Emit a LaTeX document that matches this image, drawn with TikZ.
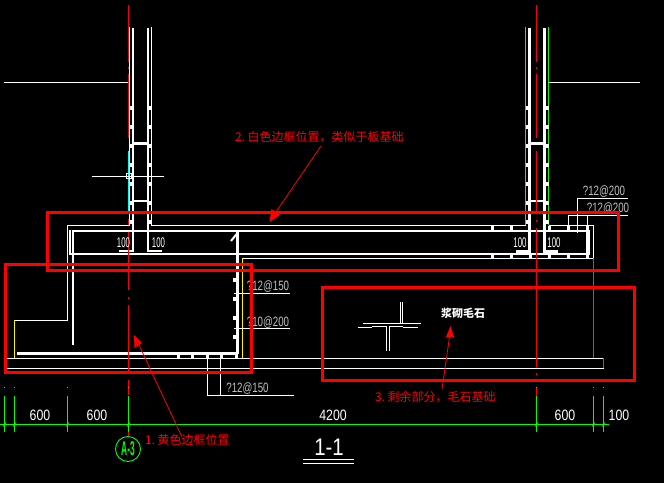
\documentclass[tikz,border=0pt]{standalone}
\usepackage{fontspec}
\setmainfont{Liberation Sans}
\newfontfamily\cjk{Noto Sans CJK SC}
\definecolor{cadgreen}{RGB}{0,255,0}
\definecolor{cadred}{RGB}{255,0,0}
\definecolor{cadcyan}{RGB}{0,255,255}
\definecolor{cadmag}{RGB}{255,0,255}
\definecolor{cadgray}{RGB}{192,192,192}
\tikzset{
  thinw/.style={draw=white,line width=0.9bp},
  midw/.style={draw=white,line width=2bp},
  thickw/.style={draw=white,line width=3bp},
  axisline/.style={draw=cadred,line width=1bp},
  dimline/.style={draw=cadgreen,line width=1bp},
  redbox/.style={draw=cadred,line width=3bp},
  leader/.style={draw=cadred,line width=0.8bp},
  rnote/.style={text=cadred,font=\cjk\fontsize{12bp}{12bp}\selectfont,inner sep=0pt},
  dimtext/.style={text=white,font=\fontsize{15bp}{15bp}\selectfont,inner sep=0pt,xscale=0.82,transform shape},
  smalldim/.style={text=white,font=\fontsize{14bp}{14bp}\selectfont,inner sep=0pt,xscale=0.56,transform shape},
  rebartext/.style={text=cadgray,font=\fontsize{13.5bp}{14bp}\selectfont,inner sep=0pt,xscale=0.72,transform shape},
}
\newcommand{\rbdot}[2]{\fill[white] (#1-1.5,#2-2) rectangle (#1+1.5,#2+2);}
\newcommand{\notenum}[1]{\makebox[12.5bp][l]{#1}}
\begin{document}
\begin{tikzpicture}[x=1bp,y=-1bp]
\fill[black,use as bounding box] (0,0) rectangle (664,483);
% ground lines
\draw[thinw] (4,82) -- (129,82);
\draw[thinw] (548,82) -- (640,82);
% walls left
\draw[thinw] (129.5,27) -- (129.5,225) -- (67.5,225) -- (67.5,320) -- (14.5,320);
\draw[draw=yellow,line width=0.9bp] (14.5,320) -- (14.5,358);
\draw[thinw] (151.5,27) -- (151.5,225) -- (525.5,225);
\draw[thickw,line width=2.6bp] (119,251) -- (133,251) -- (133,28);
\draw[thickw,line width=2.6bp] (162,251) -- (148,251) -- (148,28);
\draw[thickw] (133,144) -- (148,144);
\draw[midw] (133,201) -- (148,201);
% walls right
\draw[draw=cadgreen,line width=1bp] (525.5,27) -- (525.5,225);
\draw[draw=cadgreen,line width=1bp] (548.5,27) -- (548.5,225);
\draw[thickw] (516,251) -- (529.5,251) -- (529.5,28);
\draw[thickw] (558,251) -- (544.5,251) -- (544.5,28);
\draw[thickw] (529.5,144) -- (544.5,144);
\draw[midw] (529.5,201) -- (544.5,201);
\foreach \yy in {108,127,146,165,184,203,222}{
  \rbdot{130.5}{\yy}\rbdot{150}{\yy}\rbdot{527}{\yy}\rbdot{547}{\yy}
}
% outer outline right
\draw[thinw] (548.5,225) -- (593.5,225) -- (593.5,258) -- (242,258);
\draw[draw=cadmag,line width=1bp] (593.5,258) -- (593.5,358);
\draw[draw=yellow,line width=0.9bp] (242,258) -- (242,358);
% slab rebar
\draw[midw] (72.5,345) -- (72.5,231) -- (589,231);
\draw[midw] (70,230) -- (70,254);
\draw[midw] (69,253.5) -- (589,253.5);
\draw[draw=white,line width=4.5bp] (588,230) -- (588,255);
\draw[thickw] (17,353) -- (237.5,353);
\draw[thickw] (237.5,354) -- (237.5,232);
\draw[midw] (231,241) -- (237.5,233);
\foreach \xx in {492,511,549,568,587}{\rbdot{\xx}{228.5}}
\foreach \xx in {492,511,530,549,568,587}{\rbdot{\xx}{256}}
\foreach \yy in {280,299,318,337}{\rbdot{234.5}{\yy}}
\foreach \xx in {178,192.5,207,221,236}{\rbdot{\xx}{356}}
% rebar leaders
\draw[thinw] (234,293) -- (290,293);
\draw[thinw] (234,328) -- (290,328);
\draw[thinw] (207,356) -- (207,395) -- (294,395);
\draw[thinw] (220.5,356) -- (220.5,395);
\draw[thinw] (568,228) -- (568,215) -- (628,215);
\draw[thinw] (587,228) -- (587,215);
\draw[thinw] (577,233) -- (577,198) -- (628,198);
% bottom plate
\draw[thinw] (6,358) -- (603.5,358);
\draw[thinw] (6,368) -- (603.5,368);
\draw[draw=cadmag,line width=1bp] (603.5,358) -- (603.5,368);
% axes
\foreach \ax in {128.5,536.5}{
  \draw[axisline] (\ax,5) -- (\ax,62);
  \draw[axisline] (\ax,67) -- (\ax,69);
  \draw[axisline] (\ax,74) -- (\ax,138);
}
\draw[draw=cadcyan,line width=1bp] (128.5,151) -- (128.5,212);
\draw[axisline] (128.5,219) -- (128.5,225);
\draw[axisline] (128.5,232) -- (128.5,290);
\draw[axisline] (128.5,297) -- (128.5,299);
\draw[axisline] (128.5,305) -- (128.5,373);
\draw[axisline] (128.5,380) -- (128.5,395);
\draw[axisline] (128.5,432) -- (128.5,437);
\draw[axisline] (536.5,151) -- (536.5,212);
\draw[axisline] (536.5,220) -- (536.5,222);
\draw[axisline] (536.5,228) -- (536.5,367);
\draw[axisline] (536.5,373) -- (536.5,375);
\draw[axisline] (536.5,387) -- (536.5,396);
% cursor
\draw[thinw] (92,176) -- (164,176);
\draw[draw=white,line width=0.8bp] (126,173.5) rectangle (131,178.5);
% symbol
\draw[thinw] (400,302) -- (400,323);
\draw[thinw] (402.5,302) -- (402.5,323);
\draw[thinw] (363,323.5) -- (421,323.5);
\draw[thinw] (358,327.5) -- (372,327.5);
\draw[thinw] (372,326.5) -- (386,326.5) -- (386,351);
\draw[thinw] (389,351) -- (389,326.5) -- (403,326.5);
\draw[thinw] (403,327.5) -- (418,327.5);
% dimensions
\draw[dimline] (0,424.5) -- (609,424.5);
\foreach \tx in {4.5,14.5,67.5,128.5,536.5,593.5,603.5}{
  \draw[dimline] (\tx,396) -- (\tx,432);
  \draw[dimline,line width=0.7bp] (\tx-1.5,426.5) -- (\tx+1.5,422.5);
  \fill[cadgreen] (\tx-0.5,387) rectangle (\tx+0.5,388);
}
\node[dimtext] (d1) at (40,415) {600};
\node[dimtext] (d2) at (97,415) {600};
\node[dimtext] (d3) at (333,415) {4200};
\node[dimtext] (d4) at (565,415) {600};
\node[dimtext] (d5) at (619,415) {100};
% axis bubble
\node[draw=cadgreen,line width=0.9bp,circle,minimum size=25bp,inner sep=0pt,text=cadgreen,font=\bfseries\fontsize{20bp}{20bp}\selectfont] (bubble) at (128,449) {\scalebox{0.42}[1]{A-3}};
% title
\node[text=white,font=\fontsize{24bp}{24bp}\selectfont,inner sep=0pt] (title) at (329,447.5) {\scalebox{0.85}[1]{1-1}};
\draw[draw=white,line width=1.6bp] (303,459.5) -- (354,459.5);
\draw[draw=white,line width=0.9bp] (303,463.5) -- (354,463.5);
% small texts
\node[smalldim] (s1) at (123.5,243) {100};
\node[smalldim] (s2) at (158.5,243) {100};
\node[smalldim] (s3) at (520,243) {100};
\node[smalldim] (s4) at (554,243) {100};
\node[rebartext] (r1) at (268,287) {?12@150};
\node[rebartext] (r2) at (268,323) {?10@200};
\node[rebartext] (r3) at (247.5,389) {?12@150};
\node[rebartext] (r4) at (604,192) {?12@200};
\node[rebartext] (r5) at (608,209) {?12@200};
\node[text=white,font=\cjk\bfseries\fontsize{11bp}{12bp}\selectfont,inner sep=0pt] (stone) at (463,313) {浆砌毛石};
% notes
\node[rnote,anchor=west] (n2) at (235,137) {\notenum{2.}白色边框位置，类似于板基础};
\node[rnote,anchor=west] (n1) at (145,440) {\notenum{1.}黄色边框位置};
\node[rnote,anchor=west] (n3) at (375,397) {\notenum{3.}剩余部分，毛石基础};
% red boxes
\draw[redbox] (47,213) rectangle (618,270.5);
\draw[redbox] (5.5,264.5) rectangle (251,372.5);
\draw[redbox] (322,287.5) rectangle (634,380);
% arrows
\coordinate (a2s) at (321,146);
\coordinate (a2e) at (276,212);
\coordinate (a1s) at (182,437);
\coordinate (a1e) at (139,345);
\coordinate (a3s) at (442,389);
\coordinate (a3e) at (449.5,337);
\draw[leader] (a2s) -- (a2e);
\draw[leader] (a1s) -- (a1e);
\draw[leader] (a3s) -- (a3e);
\fill[cadred] (269.5,222) -- (271.5,209) -- (280,215) -- cycle;
\fill[cadred] (134,335) -- (142,343) -- (134.5,348) -- cycle;
\fill[cadred] (450.5,326) -- (454,337) -- (446,337) -- cycle;
\end{tikzpicture}
\end{document}
